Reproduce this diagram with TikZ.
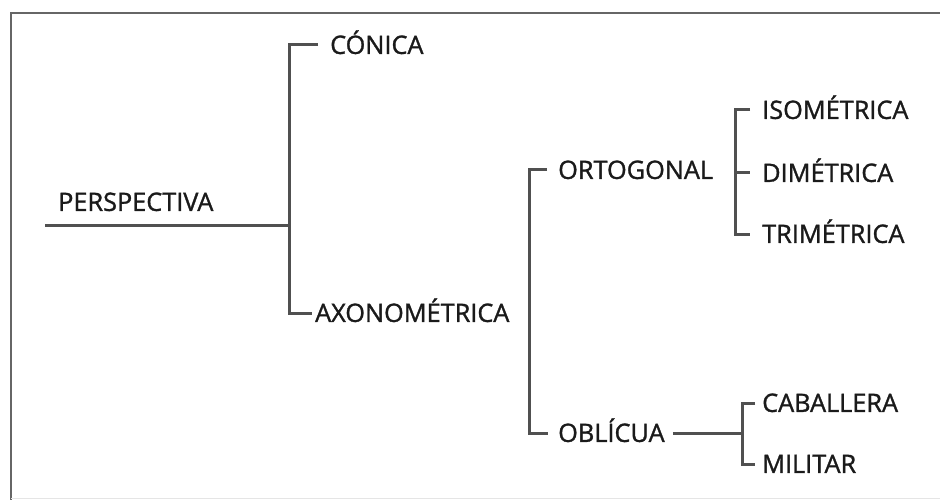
\documentclass[tikz,border=0pt]{standalone}
\usepackage{fontspec}
\setmainfont{Open Sans}
\newfontfamily\lblfont{Open Sans}[FakeBold=1.2]
\usetikzlibrary{calc}
\definecolor{linegray}{HTML}{505050}
\definecolor{framegray}{HTML}{666666}
\definecolor{txt}{HTML}{1A1A1A}
\tikzset{
  lbl/.style={anchor=west, inner sep=0pt, text height=17.8pt, text depth=0pt,
              font=\lblfont\fontsize{25.3}{30}\selectfont, text=txt},
  conn/.style={draw=linegray, line width=3pt},
  framel/.style={draw=framegray, line width=2.8pt}
}
\begin{document}
\begin{tikzpicture}[x=1pt,y=-1pt]
\useasboundingbox[fill=white] (0,0) rectangle (940,500);
% frame
\draw[framel] (11,500) -- (11,13) -- (940,13);
\draw[draw=black!10, line width=1pt] (11,498) -- (940,498);
% labels
\node[lbl] (persp) at (58,202) {PERSPECTIVA};
\node[lbl] (conica) at (330,45) {CÓNICA};
\node[lbl] (axono) at (315,313) {AXONOMÉTRICA};
\node[lbl] (orto) at (558,170) {ORTOGONAL};
\node[lbl] (iso) at (762,110) {ISOMÉTRICA};
\node[lbl] (dim) at (762,173) {DIMÉTRICA};
\node[lbl] (tri) at (762,234) {TRIMÉTRICA};
\node[lbl] (obl) at (558,433) {OBLÍCUA};
\node[lbl] (cab) at (762,403) {CABALLERA};
\node[lbl] (mil) at (762,464) {MILITAR};
% junctions
\coordinate (pstart) at (45,225);
\coordinate (j1) at (289,225);
\coordinate (j2) at (529,313);
\coordinate (j3) at (735,173);
\coordinate (j4) at (742,433);
% connectors
\draw[conn] (pstart) -- (j1);
\draw[conn] ([xshift=-12pt]conica.west) -| (j1) |- ([xshift=-3pt]axono.west);
\draw[conn] ([xshift=-11pt]orto.west) -| (j2) |- ([xshift=-10pt]obl.west);
\draw[conn] ([xshift=-12pt]iso.west) -| (j3) |- ([xshift=-12pt]tri.west);
\draw[conn] (j3) -- ([xshift=-12pt]dim.west);
\draw[conn] ([xshift=8pt]obl.east) -- (j4);
\draw[conn] ([xshift=-7pt]cab.west) -| (j4) |- ([xshift=-7pt]mil.west);
\end{tikzpicture}
\end{document}
